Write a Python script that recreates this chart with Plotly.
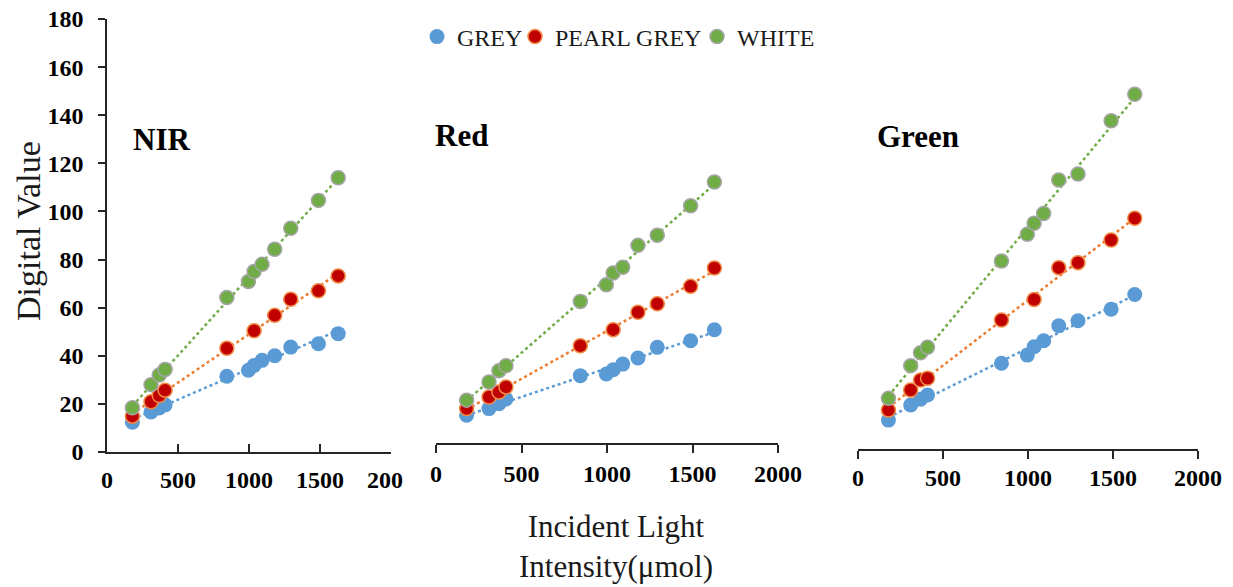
import numpy as np
import plotly.graph_objects as go

# ---------------- data ----------------
x_all = [179, 310, 368, 409, 844, 996, 1036, 1092, 1181, 1294, 1489, 1628]
x_pearl = [179, 310, 368, 409, 844, 1036, 1181, 1294, 1489, 1628]

nir_grey = [12.4, 16.6, 18.3, 19.6, 31.5, 34.0, 36.0, 38.1, 40.0, 43.6, 45.0, 49.2]
nir_pearl = [14.9, 20.9, 23.5, 25.7, 43.1, 50.4, 56.8, 63.5, 67.0, 73.2]
nir_white = [18.4, 28.0, 32.0, 34.3, 64.2, 70.9, 75.0, 78.0, 84.3, 93.0, 104.6, 114.0]

red_grey = [11.8, 14.6, 16.7, 18.7, 28.6, 29.3, 31.1, 33.5, 36.1, 40.6, 43.4, 48.1]
red_pearl = [14.6, 19.5, 21.6, 23.8, 41.3, 48.1, 55.5, 59.1, 66.5, 74.3]
red_white = [18.2, 25.9, 30.7, 32.8, 60.1, 67.2, 72.2, 74.6, 83.9, 88.2, 100.7, 110.8]

green_grey = [12.1, 18.4, 20.8, 22.6, 35.9, 39.3, 42.8, 45.3, 51.6, 53.7, 58.5, 64.7]
green_pearl = [16.3, 24.7, 28.9, 29.6, 54.0, 62.6, 75.9, 78.0, 87.5, 96.6]
green_white = [21.2, 34.9, 40.3, 42.6, 78.7, 89.9, 94.5, 98.6, 112.6, 115.1, 137.4, 148.5]

series_names = ["GREY", "PEARL GREY", "WHITE"]
panel_labels = ["NIR", "Red", "Green"]
x_ticks = [0, 500, 1000, 1500, 2000]
x_ticktext_first = ["0", "500", "1000", "1500", "200\u00a0\u00a0"]
x_ticktext = ["0", "500", "1000", "1500", "2000"]
y_ticks = [0, 20, 40, 60, 80, 100, 120, 140, 160, 180]

panels = [
    (nir_grey, nir_pearl, nir_white),
    (red_grey, red_pearl, red_white),
    (green_grey, green_pearl, green_white),
]

# ---------------- style ----------------
W, H = 1233, 587
FONT = "Liberation Serif"
line_cols = ["#5B9BD5", "#ED7D31", "#70AD47"]
fill_cols = ["#5B9BD5", "#C00000", "#70AD47"]
edge_cols = ["#7FB2E0", "#F08A45", "#A5A5A5"]
msizes = [15, 14, 14]
legend_widths = [53, 137, 0]

def px_x(p):
    return p / W

def px_y(p):
    return 1 - p / H

# pixel layout of each panel: (x0, x1, y_bottom, y_top)
boxes = [(107, 391, 452, 19), (436, 778, 443, 19), (858, 1198, 449, 19)]
tick_standoffs = [5, 0, -2]

fig = go.Figure()

for i, (grey, pearl, white) in enumerate(panels):
    xa = "x" if i == 0 else f"x{i+1}"
    ya = "y" if i == 0 else f"y{i+1}"
    xs_list = [x_all, x_pearl, x_all]
    ys_list = [grey, pearl, white]
    # trendlines first (below markers)
    for k in range(3):
        xs = np.array(xs_list[k], dtype=float)
        ys = np.array(ys_list[k], dtype=float)
        m, b = np.polyfit(xs, ys, 1)
        xl = [xs.min(), xs.max()]
        fig.add_trace(go.Scatter(
            x=xl, y=[m * v + b for v in xl], mode="lines",
            line=dict(color=line_cols[k], width=2.5, dash="dot"),
            showlegend=False, hoverinfo="skip", xaxis=xa, yaxis=ya))
    for k in range(3):
        fig.add_trace(go.Scatter(
            x=xs_list[k], y=ys_list[k], mode="markers", name=series_names[k],
            legendgroup=series_names[k], showlegend=(i == 0),
            legendwidth=legend_widths[k] if legend_widths[k] else None,
            marker=dict(color=fill_cols[k], size=msizes[k],
                        line=dict(color=edge_cols[k], width=1.5 if k > 0 else 0)),
            xaxis=xa, yaxis=ya))

axis_common = dict(showgrid=False, zeroline=False, showline=True,
                   linecolor="#262626", linewidth=1.5, tickcolor="#262626",
                   tickwidth=1.5, fixedrange=True, automargin=False)

layout = dict(
    width=W, height=H, margin=dict(l=0, r=0, t=0, b=0, pad=0, autoexpand=False),
    paper_bgcolor="white", plot_bgcolor="white",
    font=dict(family=FONT, color="black"),
    showlegend=True,
    legend=dict(orientation="h", x=px_x(417), xanchor="left",
                y=px_y(37), yanchor="middle",
                font=dict(family=FONT, size=24, color="#1a1a1a"),
                itemwidth=30, tracegroupgap=0, bgcolor="rgba(0,0,0,0)"),
)

for i, (x0, x1, yb, yt) in enumerate(boxes):
    xk = "xaxis" if i == 0 else f"xaxis{i+1}"
    yk = "yaxis" if i == 0 else f"yaxis{i+1}"
    anchor_y = "y" if i == 0 else f"y{i+1}"
    anchor_x = "x" if i == 0 else f"x{i+1}"
    layout[xk] = dict(axis_common, domain=[px_x(x0), px_x(x1)], range=[0, 2000],
                      anchor=anchor_y, tickmode="array", tickvals=x_ticks,
                      ticktext=x_ticktext_first if i == 0 else x_ticktext,
                      ticks="inside" if i == 0 else "outside", ticklen=8,
                      ticklabelstandoff=tick_standoffs[i],
                      tickfont=dict(family=FONT, size=24, weight="bold", color="black"))
    if i == 0:
        layout[yk] = dict(axis_common, domain=[px_y(yb), px_y(yt)], range=[0, 180],
                          anchor=anchor_x, tickmode="array", tickvals=y_ticks,
                          ticks="outside", ticklen=7, ticklabelstandoff=10,
                          tickfont=dict(family=FONT, size=24, weight="bold", color="black"))
    else:
        layout[yk] = dict(domain=[px_y(yb), px_y(yt)], range=[0, 180],
                          anchor=anchor_x, visible=False, fixedrange=True)

annotations = []
label_pos = [(161, 140), (461, 135), (918, 137)]
for lab, (lx, ly) in zip(panel_labels, label_pos):
    annotations.append(dict(text=lab, x=px_x(lx), y=px_y(ly), xref="paper", yref="paper",
                            xanchor="center", yanchor="middle", showarrow=False,
                            font=dict(family=FONT, size=31, weight="bold", color="black")))
annotations.append(dict(text="Incident Light<br>Intensity(\u03bcmol)", x=px_x(616), y=px_y(546),
                        xref="paper", yref="paper", xanchor="center", yanchor="middle",
                        showarrow=False, font=dict(family=FONT, size=31, color="#1a1a1a")))
annotations.append(dict(text="Digital Value", x=px_x(29), y=px_y(231), textangle=-90,
                        xref="paper", yref="paper", xanchor="center", yanchor="middle",
                        showarrow=False, font=dict(family=FONT, size=34, color="#1a1a1a")))
layout["annotations"] = annotations

fig.update_layout(**layout)
fig.write_html("out.html")
